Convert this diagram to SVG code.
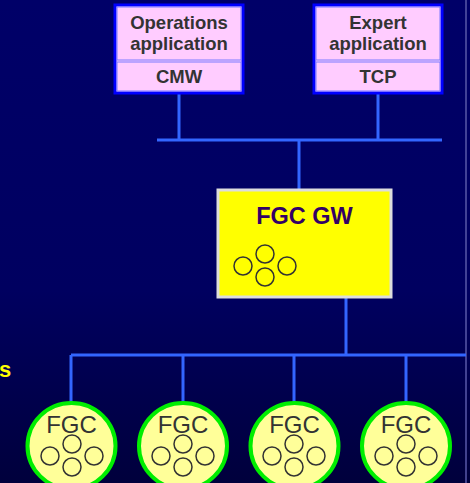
<svg xmlns="http://www.w3.org/2000/svg" width="470" height="483" viewBox="0 0 470 483">
<defs>
<linearGradient id="bg" x1="0" y1="0" x2="0" y2="1">
<stop offset="0" stop-color="#000068"/>
<stop offset="0.6" stop-color="#000060"/>
<stop offset="1" stop-color="#00003c"/>
</linearGradient>
<g id="four">
<circle cx="-22" cy="12" r="9"/>
<circle cx="0" cy="0" r="9"/>
<circle cx="22" cy="12" r="9"/>
<circle cx="0" cy="23" r="9"/>
</g>
</defs>
<style>
.bus{stroke:#3366ff;stroke-width:3;fill:none}
.app{fill:#ffccff;stroke:#0000ff;stroke-width:3}
.sec{fill:none;stroke:#7a7aff;stroke-width:1}
.apt{font-family:"Liberation Sans",Arial,sans-serif;font-weight:bold;font-size:18.5px;fill:#333333;text-anchor:middle}
.gw{fill:#ffff00;stroke:#dddddd;stroke-width:3}
.gwt{font-family:"Liberation Sans",Arial,sans-serif;font-weight:bold;font-size:23.5px;fill:#330066;text-anchor:middle}
.small{fill:none;stroke:#333333;stroke-width:1.5}
.fgc{fill:#ffff99;stroke:#00ee00;stroke-width:4}
.fgct{font-family:"Liberation Sans",Arial,sans-serif;font-size:24px;fill:#333333;text-anchor:middle}
</style>
<rect x="0" y="0" width="470" height="483" fill="url(#bg)"/>
<line x1="466" y1="0" x2="466" y2="483" stroke="#5858a8" stroke-width="1.5"/>
<text x="-1" y="377" font-family="Liberation Sans,Arial,sans-serif" font-weight="bold" font-size="22" fill="#ffff00">s</text>
<g id="connectors">
<line class="bus" x1="179" y1="93" x2="179" y2="140"/>
<line class="bus" x1="378" y1="93" x2="378" y2="140"/>
<line class="bus" x1="157" y1="140" x2="442" y2="140"/>
<line class="bus" x1="299" y1="140" x2="299" y2="189"/>
<line class="bus" x1="346" y1="298" x2="346" y2="355"/>
<line class="bus" x1="71" y1="355" x2="466" y2="355"/>
<line class="bus" x1="71" y1="355" x2="71" y2="403"/>
<line class="bus" x1="183" y1="355" x2="183" y2="403"/>
<line class="bus" x1="294" y1="355" x2="294" y2="403"/>
<line class="bus" x1="406" y1="355" x2="406" y2="403"/>
</g>
<g id="ops">
<rect class="app" x="115" y="5" width="128" height="88"/>
<rect class="sec" x="117" y="7" width="124" height="53"/>
<rect class="sec" x="117" y="62" width="124" height="29"/>
<text class="apt" x="179" y="29">Operations</text>
<text class="apt" x="179" y="50">application</text>
<text class="apt" x="179" y="83">CMW</text>
</g>
<g id="expert">
<rect class="app" x="314" y="5" width="128" height="88"/>
<rect class="sec" x="316" y="7" width="124" height="53"/>
<rect class="sec" x="316" y="62" width="124" height="29"/>
<text class="apt" x="378" y="29">Expert</text>
<text class="apt" x="378" y="50">application</text>
<text class="apt" x="378" y="83">TCP</text>
</g>
<g id="gw">
<rect class="gw" x="218" y="190" width="173" height="107"/>
<text class="gwt" x="304.5" y="224">FGC GW</text>
<use href="#four" x="265" y="254" class="small"/>
</g>
<g id="fgc1">
<ellipse class="fgc" cx="71.5" cy="446" rx="44" ry="43"/>
<text class="fgct" x="71.5" y="433">FGC</text>
<use href="#four" x="72" y="444" class="small"/>
</g>
<g id="fgc2">
<ellipse class="fgc" cx="183" cy="446" rx="44" ry="43"/>
<text class="fgct" x="183" y="433">FGC</text>
<use href="#four" x="183" y="444" class="small"/>
</g>
<g id="fgc3">
<ellipse class="fgc" cx="294.5" cy="446" rx="44" ry="43"/>
<text class="fgct" x="294.5" y="433">FGC</text>
<use href="#four" x="294" y="444" class="small"/>
</g>
<g id="fgc4">
<ellipse class="fgc" cx="406" cy="446" rx="44" ry="43"/>
<text class="fgct" x="406" y="433">FGC</text>
<use href="#four" x="406" y="444" class="small"/>
</g>
</svg>
